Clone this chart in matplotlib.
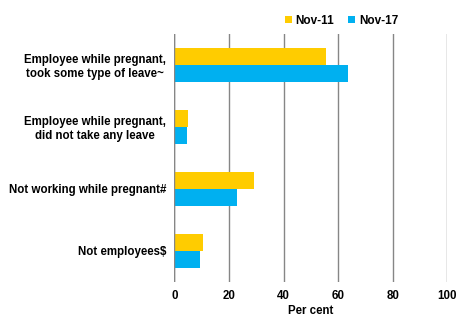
import numpy as np
import matplotlib

matplotlib.use("Agg")
import matplotlib.pyplot as plt

plt.rcParams["font.family"] = ["Liberation Sans", "DejaVu Sans"]
plt.rcParams["font.weight"] = "bold"

categories = [
    "Employee while pregnant,\ntook some type of leave~",
    "Employee while pregnant,\ndid not take any leave",
    "Not working while pregnant#",
    "Not employees$",
]
nov11 = [55.7, 4.9, 29.0, 10.4]
nov17 = [63.6, 4.6, 22.9, 9.3]
series_labels = ["Nov-11", "Nov-17"]
xticks = [0, 20, 40, 60, 80, 100]

YELLOW = "#FFCC00"
BLUE = "#00B0F0"
GRID = "#868686"

fig = plt.figure(figsize=(4.7, 3.26), dpi=100)
ax = fig.add_axes([0.371, 0.135, 0.581, 0.761])

y = np.arange(len(categories))
h = 0.28
ax.barh(y - h / 2, nov11, height=h, color=YELLOW, label=series_labels[0], zorder=3)
ax.barh(y + h / 2, nov17, height=h, color=BLUE, label=series_labels[1], zorder=3)

ax.set_ylim(len(categories) - 0.5, -0.5)
ax.set_xlim(0, 100)
ax.set_yticks(y)
ax.set_yticklabels(categories, fontsize=8.3, fontweight="bold", ha="right",
                   multialignment="center")
ax.set_xticks(xticks)
ax.set_xticklabels([str(t) for t in xticks], fontsize=8.3, fontweight="bold")
ax.tick_params(length=0, pad=6)
ax.tick_params(axis="x", pad=6)

for s in ax.spines.values():
    s.set_visible(False)
ax.grid(axis="x", color=GRID, linewidth=1.0, zorder=0)
ax.axvline(0, color=GRID, linewidth=1.0, zorder=4)

ax.set_xlabel("Per cent", fontsize=8.3, fontweight="bold", labelpad=2)

ax.legend(loc="lower right", bbox_to_anchor=(0.845, 1.0), ncol=2, frameon=False,
          fontsize=8.5, handlelength=0.6, handleheight=0.6, handletextpad=0.3,
          columnspacing=1.2, borderaxespad=0.2)

fig.savefig("out.png", dpi=100)
